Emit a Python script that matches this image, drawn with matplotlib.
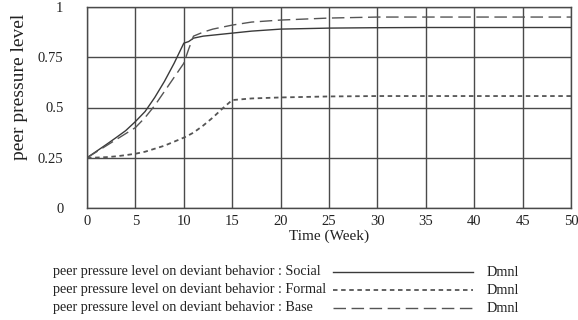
import matplotlib
matplotlib.use("Agg")
import matplotlib.pyplot as plt
from matplotlib.lines import Line2D

# Simulation output (Time in weeks, level in Dmnl)
weeks = [0, 1, 2, 3, 4, 5, 6, 7, 8, 9, 10, 10.5, 11, 12, 13, 14, 15, 17, 20, 25, 30, 35, 40, 45, 50]
social = [0.25, 0.283, 0.316, 0.35, 0.385, 0.43, 0.48, 0.55, 0.63, 0.72, 0.82, 0.828, 0.845, 0.855,
          0.86, 0.865, 0.87, 0.88, 0.89, 0.895, 0.897, 0.898, 0.898, 0.898, 0.898]
formal = [0.25, 0.251, 0.253, 0.257, 0.263, 0.27, 0.28, 0.295, 0.31, 0.33, 0.35, 0.362, 0.375, 0.41,
          0.45, 0.495, 0.537, 0.545, 0.55, 0.555, 0.557, 0.557, 0.557, 0.557, 0.557]
base = [0.25, 0.28, 0.31, 0.34, 0.37, 0.40, 0.45, 0.51, 0.58, 0.65, 0.72, 0.79, 0.855, 0.875,
        0.89, 0.90, 0.91, 0.925, 0.935, 0.945, 0.95, 0.95, 0.95, 0.95, 0.95]

series_names = ["Social", "Formal", "Base"]
x_ticks = [0, 5, 10, 15, 20, 25, 30, 35, 40, 45, 50]
y_ticks = [0, 0.25, 0.5, 0.75, 1]
y_tick_labels = ["0", "0.25", "0.5", "0.75", "1"]

plt.rcParams["font.family"] = ["Liberation Serif", "DejaVu Serif"]

fig = plt.figure(figsize=(5.78, 3.2), dpi=100)
ax = fig.add_axes([87 / 578, 1 - 208 / 320, (571 - 87) / 578, (208 - 7) / 320])

ink = "#3a3a3a"
styles = {
    "Social": dict(color=ink, linewidth=1.0, linestyle="-"),
    "Formal": dict(color="#555555", linewidth=1.3, linestyle=(0, (2.5, 2))),
    "Base": dict(color="#555555", linewidth=1.0, linestyle=(0, (9, 4))),
}
for name, vals in zip(series_names, [social, formal, base]):
    ax.plot(weeks, vals, **styles[name])

ax.set_xlim(0, 50)
ax.set_ylim(0, 1)
ax.set_xticks(x_ticks)
ax.set_yticks(y_ticks)
ax.set_yticklabels(y_tick_labels)
ax.grid(True, color="#4a4a4a", linewidth=1.0)
ax.set_axisbelow(True)
for spine in ax.spines.values():
    spine.set_color("#4a4a4a")
    spine.set_linewidth(1.0)
ax.tick_params(length=0, labelsize=10.5, colors="#222222")
ax.tick_params(axis="y", pad=17)
ax.tick_params(axis="x", pad=5)

ax.set_xlabel("Time (Week)", fontsize=11, color="#222222", labelpad=1)
fig.text(20 / 578, 1 - 87 / 320, "peer pressure level", rotation=90, fontsize=14,
         ha="center", va="center", color="#222222")

# legend block below the plot: text, line sample, unit
rows_y = [272, 290, 308]
for name, y in zip(series_names, rows_y):
    yf = 1 - y / 320
    fig.text(53 / 578, yf, f"peer pressure level on deviant behavior : {name}",
             fontsize=10.2, ha="left", va="center", color="#222222")
    fig.add_artist(Line2D([333 / 578, 473 / 578], [yf, yf], transform=fig.transFigure,
                          **styles[name]))
    fig.text(487 / 578, yf, "Dmnl", fontsize=10.2, ha="left", va="center", color="#222222")

fig.savefig("out.png", dpi=100)
